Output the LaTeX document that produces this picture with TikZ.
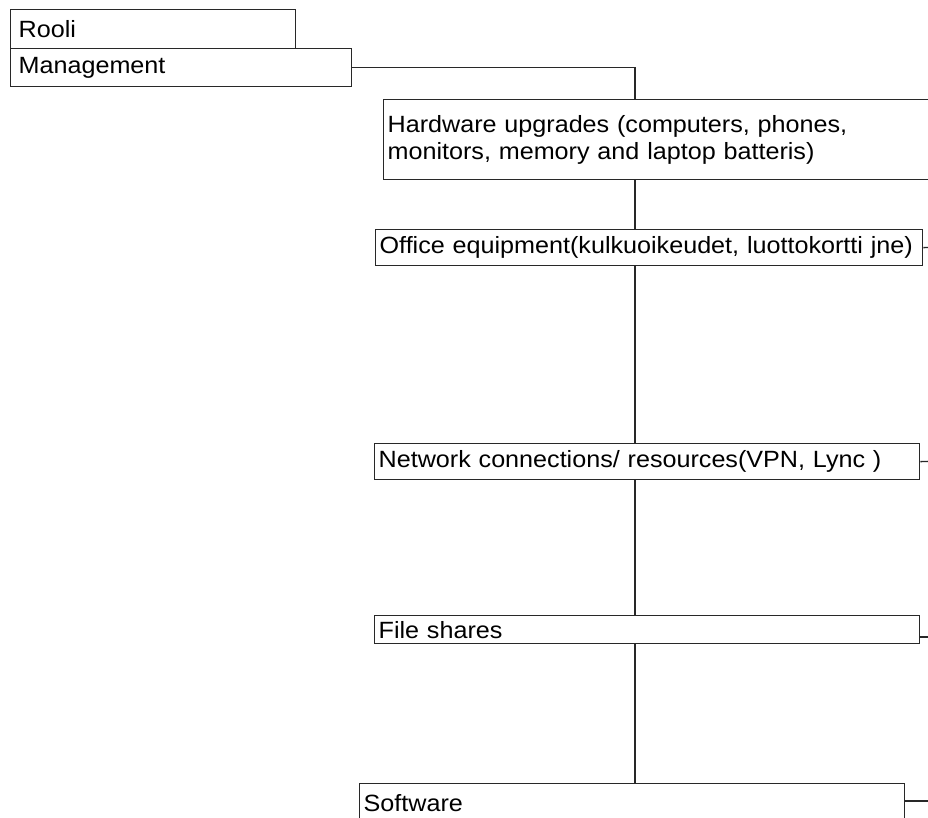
\documentclass[tikz,border=0pt]{standalone}
\usepackage{fontspec}
\setmainfont{Liberation Sans}[FakeStretch=1.07]
\definecolor{edge}{RGB}{40, 40, 40}

\begin{document}
\begin{tikzpicture}[
x=1pt, y=-1pt,
role_box/.style={rectangle, draw=edge, line width=1.3pt, anchor=north west, align=left, inner xsep=8pt, inner ysep=0pt, font=\fontsize{23.5}{27}\selectfont},
item_box/.style={role_box, inner xsep=4pt},
link/.style={draw=edge, line width=1.3pt}
]
\useasboundingbox (0,0) rectangle (928,818);

% Role header
\node (rooli) [role_box, text width=269pt, minimum height=39pt] at (10,9) {Rooli};
\node (mgmt) [role_box, text width=325pt, minimum height=38pt] at (10,48) {Management};

% Items
\node (hw) [item_box, text width=537pt, minimum height=80pt] at (383,99) {Hardware upgrades (computers, phones,\\monitors, memory and laptop batteris)};
\node (office) [item_box, text width=539pt, minimum height=36pt] at (375,229) {Office equipment(kulkuoikeudet, luottokortti jne)};
\node (network) [item_box, text width=537pt, minimum height=36pt] at (374,443) {Network connections/ resources(VPN, Lync )};
\node (files) [item_box, text width=537pt, minimum height=28pt] at (374,615) {File shares};
\node (software) [item_box, text width=537pt, minimum height=38pt] at (359,783) {Software};

% Trunk and off-page ends
\coordinate (trunk) at (635,0);
\coordinate (office_out) at (940,247);
\coordinate (network_out) at (940,461);
\coordinate (files_out) at (940,637);
\coordinate (software_out) at (940,801);

% Links
\draw [link] (mgmt.east) -| (hw.north -| trunk);
\draw [link] (hw.south -| trunk) -- (office.north -| trunk);
\draw [link] (office.south -| trunk) -- (network.north -| trunk);
\draw [link] (network.south -| trunk) -- (files.north -| trunk);
\draw [link] (files.south -| trunk) -- (software.north -| trunk);

% Stubs to the right
\draw [link] (office.east) -- (office_out);
\draw [link] (network.east) -- (network_out);
\draw [link] (files.east |- files_out) -- (files_out);
\draw [link] (software.east |- software_out) -- (software_out);

\end{tikzpicture}
\end{document}
